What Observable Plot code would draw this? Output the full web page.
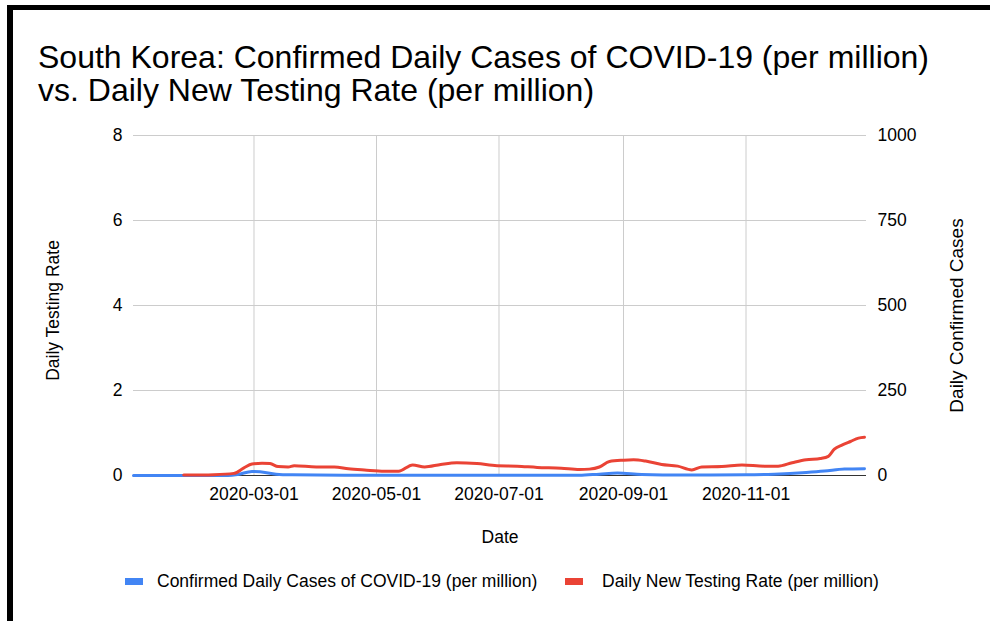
<!DOCTYPE html>
<html>
<head>
<meta charset="utf-8">
<script src="https://cdn.jsdelivr.net/npm/d3@7"></script>
<script src="https://cdn.jsdelivr.net/npm/@observablehq/plot@0.6"></script>
<style>
  body { margin: 0; background: #fff; }
  #wrap { position: relative; width: 990px; height: 621px; overflow: hidden;
          font-family: "Liberation Sans", Arial, sans-serif; color: #000; background: #fff; }
  #wrap svg { position: absolute; left: 0; top: 0; }
  .bar { position: absolute; background: #000; }
  #title { position: absolute; left: 38px; top: 41px; font-size: 32px; line-height: 33px; white-space: nowrap; }
  .leg { position: absolute; top: 571px; font-size: 17.5px; line-height: 20px; white-space: nowrap; }
  .sw { position: absolute; top: 578px; width: 18px; height: 7px; }
</style>
</head>
<body>
<div id="wrap">
  <div class="bar" style="left:7px;top:5px;width:983px;height:5px;"></div>
  <div class="bar" style="left:7px;top:5px;width:6px;height:616px;"></div>
  <div id="title">South Korea: Confirmed Daily Cases of COVID-19 (per million)<br>vs. Daily New Testing Rate (per million)</div>
  <div class="sw" style="left:125px;background:#4285f4;"></div>
  <div class="leg" style="left:157px;">Confirmed Daily Cases of COVID-19 (per million)</div>
  <div class="sw" style="left:565px;background:#ea4335;"></div>
  <div class="leg" style="left:602px;">Daily New Testing Rate (per million)</div>
</div>
<script>
// Daily New Testing Rate (left axis)
const redDates = ["2020-01-26","2020-02-10","2020-02-20","2020-02-25","2020-02-29","2020-03-05","2020-03-09","2020-03-13","2020-03-18","2020-03-21","2020-04-01","2020-04-10","2020-04-17","2020-04-25","2020-05-05","2020-05-12","2020-05-19","2020-05-25","2020-06-02","2020-06-10","2020-06-20","2020-06-30","2020-07-10","2020-07-20","2020-08-01","2020-08-10","2020-08-15","2020-08-20","2020-08-25","2020-09-01","2020-09-06","2020-09-12","2020-09-20","2020-09-28","2020-10-05","2020-10-10","2020-10-20","2020-10-30","2020-11-10","2020-11-17","2020-11-24","2020-12-01","2020-12-08","2020-12-12","2020-12-15","2020-12-19","2020-12-23","2020-12-27","2020-12-30"];
const redValues = [0.01,0.02,0.05,0.18,0.27,0.29,0.28,0.21,0.20,0.23,0.20,0.20,0.16,0.13,0.10,0.10,0.25,0.20,0.26,0.30,0.28,0.23,0.22,0.19,0.17,0.14,0.15,0.20,0.33,0.36,0.37,0.34,0.26,0.22,0.13,0.20,0.21,0.25,0.22,0.22,0.30,0.37,0.40,0.45,0.62,0.72,0.80,0.88,0.90];

// Confirmed Daily Cases of COVID-19 (right axis)
const blueDates = ["2020-01-01","2020-02-17","2020-02-22","2020-02-29","2020-03-04","2020-03-12","2020-03-20","2020-04-15","2020-05-15","2020-06-15","2020-07-15","2020-08-10","2020-08-20","2020-08-29","2020-09-10","2020-10-01","2020-11-01","2020-11-15","2020-12-01","2020-12-10","2020-12-20","2020-12-30"];
const blueValues = [0,0,3,12,11,4,2,0.5,0.4,0.8,0.8,0.6,4,7,3,1.5,2,4,9,13,19,20];

const leftTicks = [0, 2, 4, 6, 8];
const rightTicks = [0, 250, 500, 750, 1000];
const xTickLabels = ["2020-03-01","2020-05-01","2020-07-01","2020-09-01","2020-11-01"];
const xDomain = ["2020-01-01","2020-12-31"];

const leftMax = 8, rightMax = 1000;
const red = redDates.map((d, i) => ({date: new Date(d), value: redValues[i]}));
const blue = blueDates.map((d, i) => ({date: new Date(d), value: blueValues[i]}));
const xTicks = xTickLabels.map(d => new Date(d));

const chart = Plot.plot({
  width: 990,
  height: 621,
  marginLeft: 133,
  marginRight: 124,
  marginTop: 135,
  marginBottom: 146,
  style: {fontFamily: '"Liberation Sans", Arial, sans-serif', fontSize: "17.5px", color: "#000", background: "transparent", overflow: "visible"},
  x: {type: "utc", domain: xDomain.map(d => new Date(d))},
  y: {domain: [0, leftMax]},
  marks: [
    Plot.gridY(leftTicks.filter(v => v > 0), {stroke: "#cccccc", strokeOpacity: 1}),
    Plot.gridX(xTicks, {stroke: "#cccccc", strokeOpacity: 1}),
    Plot.ruleY([0], {stroke: "#333333", strokeWidth: 1}),
    Plot.axisY(leftTicks, {anchor: "left", tickSize: 0, tickPadding: 11, label: null, fill: "#000", fontSize: 17.5}),
    Plot.axisY(rightTicks.map(v => v * leftMax / rightMax), {anchor: "right", tickSize: 0, tickPadding: 11, label: null, fill: "#000", fontSize: 17.5,
      tickFormat: v => String(Math.round(v * rightMax / leftMax))}),
    Plot.axisX(xTicks, {anchor: "bottom", tickSize: 0, tickPadding: 12, label: null, fill: "#000", fontSize: 17.5, tickFormat: d3.utcFormat("%Y-%m-%d")}),
    Plot.text(["Daily Testing Rate"], {frameAnchor: "left", textAnchor: "middle", dx: -80, dy: 5, rotate: -90, fontSize: 17.5, fill: "#000"}),
    Plot.text(["Daily Confirmed Cases"], {frameAnchor: "right", textAnchor: "middle", dx: 90, dy: 10, rotate: -90, fontSize: 19, fill: "#000"}),
    Plot.text(["Date"], {frameAnchor: "bottom", dy: 67, fontSize: 17.5, fill: "#000"}),
    Plot.lineY(blue, {x: "date", y: d => d.value * leftMax / rightMax, stroke: "#4285f4", strokeWidth: 3, curve: "monotone-x"}),
    Plot.lineY(red, {x: "date", y: "value", stroke: "#ea4335", strokeWidth: 3, curve: "monotone-x"})
  ]
});
document.getElementById("wrap").insertBefore(chart, document.getElementById("wrap").firstChild);
</script>
</body>
</html>
